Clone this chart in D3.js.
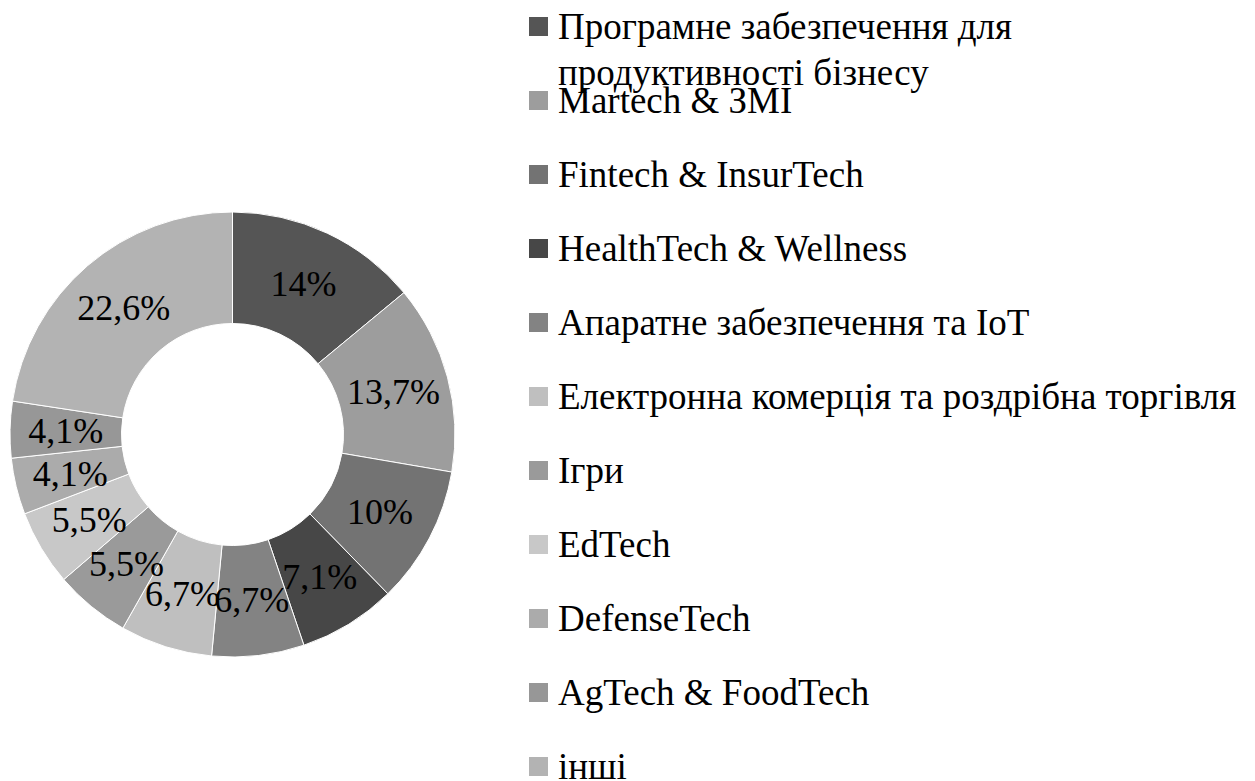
<!DOCTYPE html>
<html>
<head>
<meta charset="utf-8">
<script src="https://cdn.jsdelivr.net/npm/d3@7"></script>
<style>
  body { margin: 0; background: #fff; }
  text { font-family: "Liberation Serif", "Times New Roman", serif; fill: #000; }
</style>
</head>
<body>
<svg id="chart" width="1255" height="781"></svg>
<script>
// Sector names (line breaks as they appear in the legend)
const categories = [
    "Програмне забезпечення для\nпродуктивності бізнесу",
    "Martech & ЗМІ",
    "Fintech & InsurTech",
    "HealthTech & Wellness",
    "Апаратне забезпечення та IoT",
    "Електронна комерція та роздрібна торгівля",
    "Ігри",
    "EdTech",
    "DefenseTech",
    "AgTech & FoodTech",
    "інші"
];
// Share of each sector, %
const shares = [14, 13.7, 10, 7.1, 6.7, 6.7, 5.5, 5.5, 4.1, 4.1, 22.6];
// Grey shades used for each slice
const shades = ["#555555", "#9d9d9d", "#737373", "#474747", "#838383", "#bfbfbf",
                "#9a9a9a", "#c8c8c8", "#ababab", "#979797", "#b3b3b3"];

const data = categories.map((c, i) => ({ name: c, value: shares[i] }));

const svg = d3.select("#chart");

// Donut geometry
const cx = 232.5, cy = 434.5;
const outerR = 222.5, innerR = 111;

const color = d3.scaleOrdinal().domain(categories).range(shades);

const pie = d3.pie()
    .sort(null)
    .value(d => d.value);

const arc = d3.arc()
    .innerRadius(innerR)
    .outerRadius(outerR);

const labelArc = d3.arc()
    .innerRadius((innerR + outerR) / 2)
    .outerRadius((innerR + outerR) / 2);

const g = svg.append("g")
    .attr("transform", `translate(${cx},${cy})`);

const arcs = pie(data);

g.selectAll("path.slice")
    .data(arcs)
    .enter().append("path")
    .attr("class", "slice")
    .attr("d", arc)
    .attr("fill", d => color(d.data.name))
    .attr("stroke", "#fff")
    .attr("stroke-width", 1);

// Percent labels, comma as decimal separator
const fmt = v => String(v).replace(".", ",") + "%";

g.selectAll("text.pct")
    .data(arcs)
    .enter().append("text")
    .attr("class", "pct")
    .attr("transform", d => `translate(${labelArc.centroid(d)})`)
    .attr("text-anchor", "middle")
    .attr("dy", "0.34em")
    .style("font-size", "36px")
    .text(d => fmt(d.data.value));

// Legend
const legendY = d3.scaleLinear()
    .domain([0, categories.length - 1])
    .range([26.5, 766.5]);

const markerSize = 19;
const markerX = 529;
const textX = 558;

const item = svg.append("g")
    .attr("class", "legend")
    .selectAll("g")
    .data(data)
    .enter().append("g")
    .attr("transform", (d, i) => `translate(0,${legendY(i)})`);

item.append("rect")
    .attr("x", markerX)
    .attr("y", -markerSize / 2)
    .attr("width", markerSize)
    .attr("height", markerSize)
    .attr("fill", d => color(d.name));

item.append("text")
    .attr("x", textX)
    .style("font-size", "37px")
    .each(function(d) {
        const t = d3.select(this);
        d.name.split("\n").forEach((line, k) => {
            t.append("tspan")
                .attr("x", textX)
                .attr("dy", k === 0 ? "0.33em" : "1.24em")
                .text(line);
        });
    });
</script>
</body>
</html>
